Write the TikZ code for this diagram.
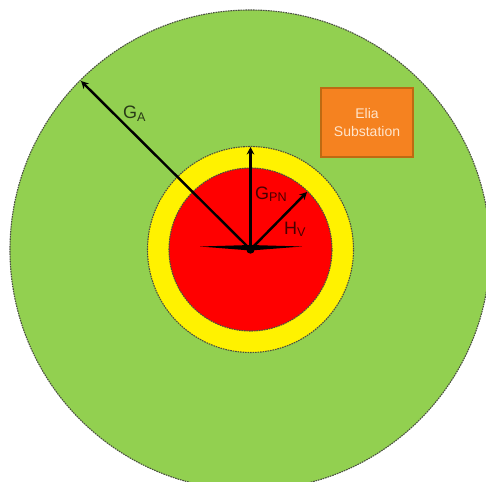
\documentclass[tikz,border=0pt]{standalone}
\usepackage{fontspec}
\setmainfont{Liberation Sans}
\usetikzlibrary{arrows.meta}
\definecolor{grn}{HTML}{92D050}
\definecolor{org}{HTML}{F58220}
\definecolor{orgd}{HTML}{BE6A12}
\definecolor{edge}{HTML}{4A5040}
\tikzset{x=1pt,y=-1pt,
 zone/.style={circle,draw=edge,dash pattern=on 1.6pt off 0.9pt,line width=1.1pt,inner sep=0pt,minimum size=#1},
 radius arrow/.style={-{Stealth[length=7.5pt,width=7.5pt]},line width=2.4pt,black},
 lab/.style={inner sep=0pt,text=black,text opacity=0.72,font=\fontsize{18}{20}\selectfont}}
\begin{document}
\begin{tikzpicture}
\useasboundingbox (0,0) rectangle (486,481);
\begin{scope}
\clip (0,0) rectangle (486,481);
\node[zone=480pt,fill=grn] (ga) at (250,250) {};
\node[zone=206pt,fill=yellow] (gpn) at (250.5,249.5) {};
\node[zone=163pt,fill=red] (hv) at (250.5,249.5) {};
\end{scope}
\coordinate (c) at (250.5,249.5);
\coordinate (gaend) at (81,81);
\coordinate (gpnend) at (250.5,147);
\coordinate (hvend) at (307,192);
\coordinate (bl) at (200,246.5);
\coordinate (br) at (302,246.5);
\fill[black] (bl) -- (250.5,245) -- (br) -- (250.5,250.5) -- cycle;
\fill[black] (c) circle (4.2pt);
\draw[radius arrow] (c) -- (gaend);
\draw[radius arrow] (c) -- (gpnend);
\draw[radius arrow] (c) -- (hvend);
\node[lab,anchor=base west] (la) at (123,119) {G\textsubscript{A}};
\node[lab,anchor=base west] (lp) at (255,199) {G\textsubscript{PN}};
\node[lab,anchor=base west] (lh) at (284,234) {H\textsubscript{V}};
\node[draw=orgd,fill=org,line width=2pt,minimum width=92pt,minimum height=69pt,inner sep=0pt,
 text=white!80!orange,align=center,font=\fontsize{14}{18}\selectfont] (box) at (367,122.5) {Elia\\Substation};
\end{tikzpicture}
\end{document}
